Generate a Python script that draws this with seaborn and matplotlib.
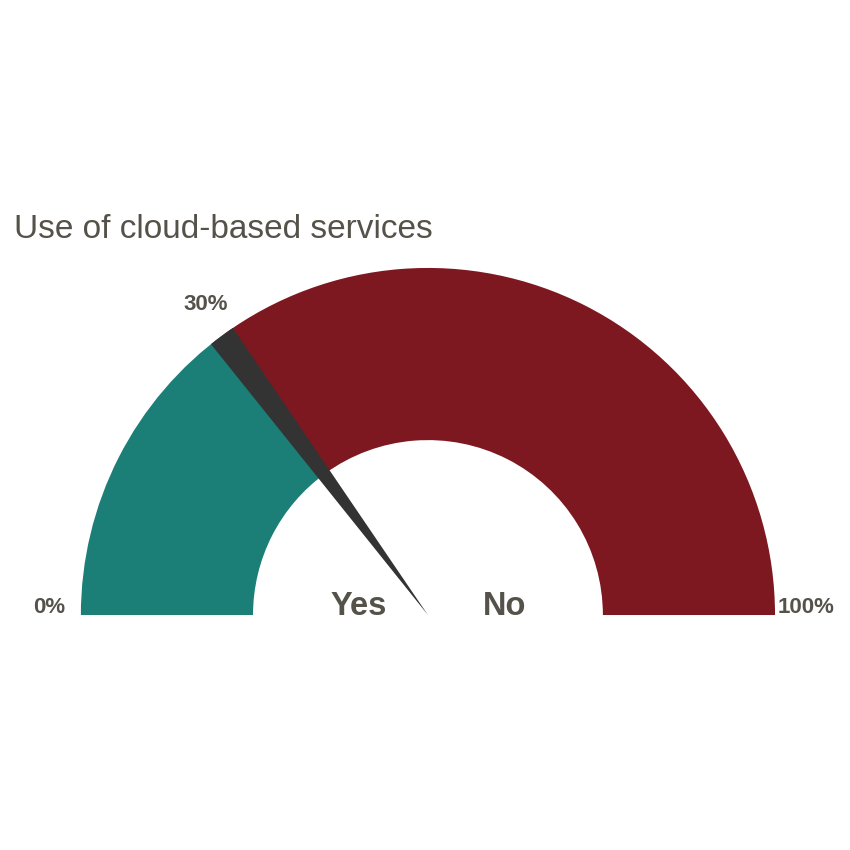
import numpy as np
import seaborn as sns
import matplotlib.pyplot as plt
from matplotlib.patches import Wedge

# gauge data
categories = ["Yes", "No"]
shares = [30, 70]          # percent
needle_value = 30          # percent shown on the gauge
tick_values = [0, 30, 100]
tick_labels = ["0%", "30%", "100%"]
colors = ["#1B7E77", "#7E1820"]

sns.set_theme(style="white")
plt.rcParams["font.family"] = ["Liberation Sans", "DejaVu Sans"]
text_col = "#55524A"

fig = plt.figure(figsize=(8.5, 8.5), dpi=100)
ax = fig.add_axes([0, 0, 1, 1])
ax.set_xlim(-1.233, 1.216)
ax.set_ylim(-0.677, 1.772)
ax.set_aspect("equal")
ax.axis("off")


def pct_to_deg(p):
    return 180 - p * 1.8


r_out, r_in = 1.0, 0.504

# ring segments
start = 0
for cat, val, col in zip(categories, shares, colors):
    a1 = pct_to_deg(start + val)
    a2 = pct_to_deg(start)
    ax.add_patch(Wedge((0, 0), r_out, a1, a2, width=r_out - r_in, color=col, lw=0))
    start += val

# needle as a thin wedge from the centre
ax.add_patch(Wedge((0, 0), r_out, pct_to_deg(needle_value + 1.0),
                   pct_to_deg(needle_value - 1.5), color="#333333", lw=0))

# percent labels round the outside
for v, lab in zip(tick_values, tick_labels):
    th = np.deg2rad(pct_to_deg(v))
    dy = 0.023 * abs(np.cos(th))
    ax.text(1.09 * np.cos(th), 1.09 * np.sin(th) + dy, lab, ha="center", va="center",
            fontsize=16, fontweight="bold", color=text_col)

# category labels in the middle
for x, cat in zip([-0.2, 0.22], categories):
    ax.text(x, 0, cat, ha="center", va="baseline", fontsize=23.5,
            fontweight="bold", color=text_col)

fig.text(14 / 850, 1 - 229 / 850, "Use of cloud-based services", ha="left", va="center",
         fontsize=24, color=text_col)

plt.savefig("out.png", dpi=100)
